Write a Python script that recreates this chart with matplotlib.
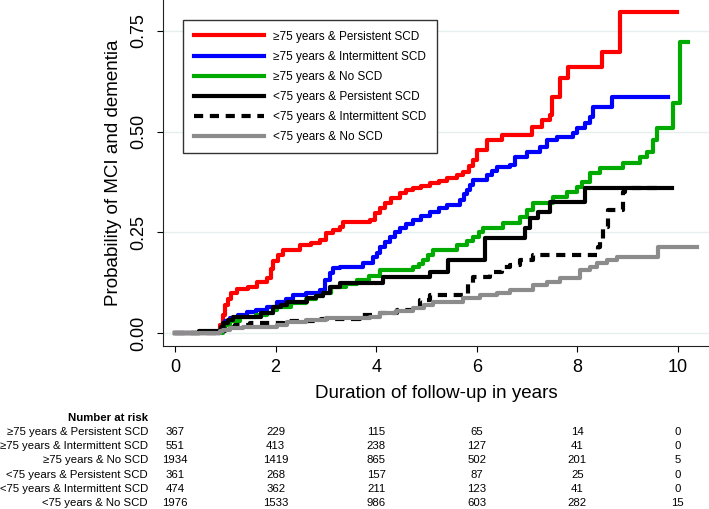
import matplotlib
matplotlib.use("Agg")
import matplotlib.pyplot as plt
from matplotlib.lines import Line2D
from matplotlib.transforms import blended_transform_factory

plt.rcParams["font.family"] = ["Liberation Sans", "DejaVu Sans"]

# step curves: (time in years, cumulative probability)
red_steps = [(0, 0), (0.9, 0.02), (0.95, 0.045), (1.0, 0.07), (1.05, 0.085), (1.12, 0.1),
             (1.23, 0.11), (1.45, 0.115), (1.63, 0.127), (1.83, 0.137), (1.9, 0.16),
             (1.95, 0.18), (2.05, 0.195), (2.15, 0.206), (2.48, 0.218), (2.7, 0.224),
             (2.88, 0.23), (3.0, 0.248), (3.15, 0.255), (3.28, 0.263), (3.34, 0.276),
             (3.88, 0.28), (3.98, 0.298), (4.08, 0.31), (4.17, 0.323), (4.3, 0.335),
             (4.47, 0.348), (4.6, 0.355), (4.73, 0.36), (4.9, 0.366), (5.07, 0.372),
             (5.25, 0.378), (5.4, 0.385), (5.6, 0.392), (5.73, 0.4), (5.85, 0.415),
             (5.93, 0.43), (6.0, 0.455), (6.2, 0.479), (6.5, 0.492), (7.1, 0.512),
             (7.3, 0.529), (7.46, 0.541), (7.5, 0.586), (7.66, 0.633), (7.82, 0.66),
             (8.49, 0.698), (8.85, 0.797), (9.98, 0.797)]
blue_steps = [(0, 0), (0.9, 0.008), (0.95, 0.02), (1.0, 0.03), (1.09, 0.037), (1.25, 0.045),
              (1.43, 0.052), (1.6, 0.057), (1.83, 0.065), (2.03, 0.077), (2.2, 0.085),
              (2.35, 0.094), (2.6, 0.1), (2.88, 0.107), (2.98, 0.132), (3.08, 0.15),
              (3.15, 0.161), (3.28, 0.164), (3.74, 0.174), (3.94, 0.189), (4.02, 0.2),
              (4.08, 0.214), (4.17, 0.226), (4.27, 0.238), (4.37, 0.25), (4.47, 0.26),
              (4.6, 0.27), (4.73, 0.28), (4.9, 0.29), (5.07, 0.3), (5.25, 0.31),
              (5.4, 0.318), (5.67, 0.33), (5.75, 0.345), (5.8, 0.355), (5.87, 0.368),
              (5.93, 0.38), (6.2, 0.392), (6.3, 0.402), (6.4, 0.412), (6.66, 0.417),
              (6.76, 0.437), (7.0, 0.45), (7.26, 0.462), (7.4, 0.479), (7.59, 0.487),
              (7.92, 0.497), (8.0, 0.509), (8.15, 0.521), (8.25, 0.536), (8.31, 0.561),
              (8.69, 0.586), (9.8, 0.586)]
green_steps = [(0, 0), (0.95, 0.01), (1.0, 0.02), (1.1, 0.03), (1.3, 0.04), (1.6, 0.045),
               (1.83, 0.05), (1.95, 0.058), (2.03, 0.065), (2.3, 0.075), (2.6, 0.085),
               (2.8, 0.092), (2.95, 0.1), (3.1, 0.115), (3.4, 0.122), (3.62, 0.132),
               (3.85, 0.142), (4.08, 0.156), (4.73, 0.164), (4.85, 0.172), (4.93, 0.181),
               (5.03, 0.193), (5.13, 0.206), (5.6, 0.218), (5.8, 0.228), (5.93, 0.238),
               (6.05, 0.25), (6.12, 0.26), (6.52, 0.273), (6.86, 0.288), (7.0, 0.305),
               (7.12, 0.323), (7.52, 0.338), (7.8, 0.35), (8.0, 0.363), (8.1, 0.375),
               (8.25, 0.397), (8.45, 0.41), (8.9, 0.422), (9.24, 0.437), (9.38, 0.45),
               (9.5, 0.479), (9.58, 0.509), (9.9, 0.571), (10.04, 0.723), (10.2, 0.723)]
black_steps = [(0, 0), (0.47, 0.004), (0.92, 0.015), (0.96, 0.025), (1.05, 0.033),
               (1.16, 0.04), (1.7, 0.05), (1.95, 0.065), (2.1, 0.07), (2.22, 0.077),
               (2.62, 0.087), (2.8, 0.093), (2.95, 0.1), (3.08, 0.115), (3.28, 0.124),
               (4.13, 0.139), (5.07, 0.151), (5.43, 0.181), (6.16, 0.236), (6.96, 0.26),
               (7.06, 0.285), (7.22, 0.3), (7.46, 0.325), (8.15, 0.36), (9.88, 0.36)]
dashed_steps = [(0, 0), (0.9, 0.005), (1.0, 0.015), (1.2, 0.02), (1.5, 0.025), (2.15, 0.03),
                (2.9, 0.035), (3.68, 0.045), (4.08, 0.05), (4.41, 0.057), (4.73, 0.065),
                (4.87, 0.082), (5.07, 0.094), (5.82, 0.124), (5.93, 0.139), (6.26, 0.151),
                (6.5, 0.164), (6.66, 0.169), (6.86, 0.181), (7.12, 0.194), (8.42, 0.215),
                (8.45, 0.231), (8.51, 0.263), (8.61, 0.305), (8.9, 0.35), (8.95, 0.36),
                (9.64, 0.36)]
gray_steps = [(0, 0), (0.9, 0.004), (0.96, 0.008), (1.1, 0.012), (1.35, 0.015), (2.03, 0.02),
              (2.22, 0.027), (2.6, 0.032), (3.0, 0.037), (3.88, 0.04), (4.08, 0.05),
              (4.4, 0.056), (4.73, 0.062), (4.95, 0.07), (5.13, 0.077), (5.73, 0.087),
              (6.06, 0.094), (6.4, 0.1), (6.66, 0.107), (7.12, 0.119), (7.4, 0.128),
              (7.66, 0.137), (8.05, 0.156), (8.25, 0.165), (8.39, 0.174), (8.6, 0.182),
              (8.79, 0.189), (9.6, 0.214), (10.38, 0.214)]

group_labels = ["\u226575 years & Persistent SCD", "\u226575 years & Intermittent SCD",
                "\u226575 years & No SCD", "<75 years & Persistent SCD",
                "<75 years & Intermittent SCD", "<75 years & No SCD"]
risk_times = [0, 2, 4, 6, 8, 10]
risk_numbers = [[367, 229, 115, 65, 14, 0],
                [551, 413, 238, 127, 41, 0],
                [1934, 1419, 865, 502, 201, 5],
                [361, 268, 157, 87, 25, 0],
                [474, 362, 211, 123, 41, 0],
                [1976, 1533, 986, 603, 282, 15]]
y_ticks = [0.0, 0.25, 0.5, 0.75]
x_ticks = [0, 2, 4, 6, 8, 10]

styles = [("#ff0000", "-"), ("#0000ff", "-"), ("#00aa00", "-"),
          ("#000000", "-"), ("#000000", (0, (2.2, 1.6))), ("#8c8c8c", "-")]
curves = [red_steps, blue_steps, green_steps, black_steps, dashed_steps, gray_steps]

W, H = 709, 509
fig = plt.figure(figsize=(W / 100, H / 100), dpi=100)
ax = fig.add_axes([163 / W, 1 - 346 / H, 546 / W, 346 / H])

for steps, (color, ls) in zip(curves, styles):
    t, p = zip(*steps)
    ax.plot(t, p, drawstyle="steps-post", color=color, linestyle=ls, lw=3)

ax.set_xlim(-0.24, 10.62)
ax.set_ylim(-0.032, 0.827)
ax.set_xticks(x_ticks)
ax.set_yticks(y_ticks)
ax.set_yticklabels([f"{v:.2f}" for v in y_ticks])
ax.tick_params(axis="y", labelrotation=90, length=4, pad=7, labelsize=13)
ax.tick_params(axis="x", length=4, pad=5, labelsize=13)
for lab in ax.get_yticklabels():
    lab.set_va("center")
ax.grid(axis="y", color="#e6efef", lw=1)
ax.set_axisbelow(True)
for s in ["top", "right"]:
    ax.spines[s].set_visible(False)
for s in ["left", "bottom"]:
    ax.spines[s].set_color("#222222")

ax.set_xlabel("Duration of follow-up in years", fontsize=13.5, labelpad=7)
ax.set_ylabel("Probability of MCI and dementia", fontsize=13.5, labelpad=6)

handles = [Line2D([], [], color=c, linestyle=ls, lw=3) for c, ls in styles]
leg = ax.legend(handles, group_labels, loc="upper left",
                bbox_to_anchor=(183 / W, 1 - 20 / H), bbox_transform=fig.transFigure,
                borderaxespad=0, fontsize=8.5, handlelength=6.0,
                handletextpad=0.7, labelspacing=0.68, borderpad=0.9,
                fancybox=False, framealpha=1)
leg.get_frame().set_edgecolor("#333333")
leg.get_frame().set_linewidth(1)

# number at risk table
tr = blended_transform_factory(ax.transData, fig.transFigure)
fig.text(148 / W, 1 - 418 / H, "Number at risk", ha="right", va="center",
         fontsize=8.2, fontweight="bold")
for i, (label, row) in enumerate(zip(group_labels, risk_numbers)):
    yy = 1 - (432 + i * 14.2) / H
    fig.text(148 / W, yy, label, ha="right", va="center", fontsize=8.2)
    for t, n in zip(risk_times, row):
        fig.text(t, yy, str(n), ha="center", va="center", fontsize=8.2, transform=tr)

fig.savefig("out.png", dpi=100)
